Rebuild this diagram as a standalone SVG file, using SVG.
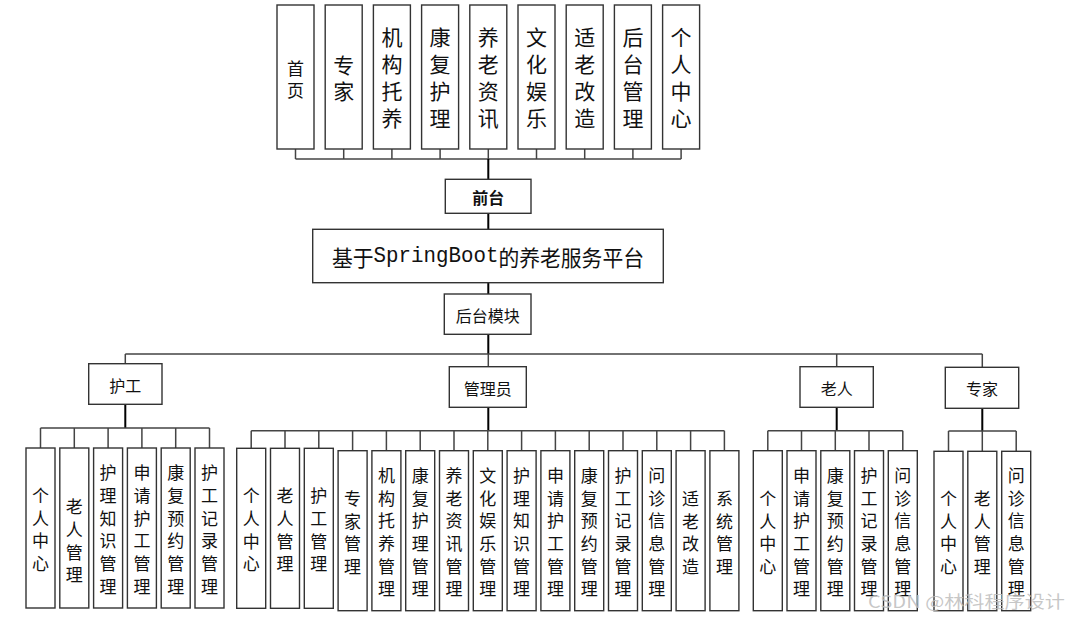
<svg xmlns="http://www.w3.org/2000/svg" width="1073" height="619" viewBox="0 0 1073 619">
<style>
rect.b{fill:#fff;stroke:#333;stroke-width:1.4}
.t{font-family:"Noto Sans CJK SC","Liberation Sans",sans-serif;fill:#111;text-anchor:middle;dominant-baseline:central}
.top{font-size:21px}
.g{font-size:16px}
.c{font-size:17px}
.ln{stroke:#444;stroke-width:1.5;fill:none}
.tk{stroke:#000;stroke-width:2;fill:none}
</style>
<rect width="1073" height="619" fill="#fff"/>
<g id="connectors">
<path class="ln" d="M295.5,149V159M343.7,149V159M391.9,149V159M440.1,149V159M536.5,149V159M584.7,149V159M632.9,149V159M681.1,149V159M488.3,149V159"/>
<path class="ln" d="M295.5,159H681.1"/>
<path class="tk" d="M488.3,159V179.3M488.3,213.3V229.3M488.3,282.7V294M488.3,334.3V354"/>
<path class="ln" d="M125.3,354H982.3M125.3,354V363.7M488.3,354V366.7M836.7,354V366.7M982.3,354V367.3"/>
<path class="tk" d="M125.3,404.3V428M488.3,407.3V430.7M836.7,407.3V430.7M982.3,408.3V431"/>
<path class="ln" d="M40.5,428H209.5M40.5,428V448M74.3,428V448M108.1,428V448M141.9,428V448M175.7,428V448M209.5,428V448"/>
<path class="ln" d="M251.2,430.7H724.4M251.2,430.7V448.3M285,430.7V448.3M318.8,430.7V448.3M352.6,430.7V450.7M386.4,430.7V450.7M420.2,430.7V450.7M454,430.7V450.7M487.8,430.7V450.7M521.6,430.7V450.7M555.4,430.7V450.7M589.2,430.7V450.7M623,430.7V450.7M656.8,430.7V450.7M690.6,430.7V450.7M724.4,430.7V450.7"/>
<path class="ln" d="M767.8,430.7H902.8M767.8,430.7V450.7M801.5,430.7V450.7M835.3,430.7V450.7M869,430.7V450.7M902.8,430.7V450.7"/>
<path class="ln" d="M948.5,431H1016.2M948.5,431V451.3M1016.2,431V451.3M982.3,431V451.3"/>
</g>
<g id="top-nodes">
<g id="n-shouye"><rect class="b" x="277" y="5" width="37" height="144"/><text class="t" style="font-size:17px" x="295.5"><tspan x="295.5" y="66.5">首</tspan><tspan x="295.5" y="88.5">页</tspan></text></g>
<g id="n-zhuanjia"><rect class="b" x="325.2" y="5" width="37" height="144"/><text class="t top" x="343.7"><tspan x="343.7" y="63.5">专</tspan><tspan x="343.7" y="90">家</tspan></text></g>
<g id="n-jigou"><rect class="b" x="373.4" y="5" width="37" height="144"/><text class="t top"><tspan x="391.9" y="36">机</tspan><tspan x="391.9" y="63">构</tspan><tspan x="391.9" y="90">托</tspan><tspan x="391.9" y="117">养</tspan></text></g>
<g id="n-kangfu"><rect class="b" x="421.6" y="5" width="37" height="144"/><text class="t top"><tspan x="440.1" y="36">康</tspan><tspan x="440.1" y="63">复</tspan><tspan x="440.1" y="90">护</tspan><tspan x="440.1" y="117">理</tspan></text></g>
<g id="n-zixun"><rect class="b" x="469.8" y="5" width="37" height="144"/><text class="t top"><tspan x="488.3" y="36">养</tspan><tspan x="488.3" y="63">老</tspan><tspan x="488.3" y="90">资</tspan><tspan x="488.3" y="117">讯</tspan></text></g>
<g id="n-wenhua"><rect class="b" x="518" y="5" width="37" height="144"/><text class="t top"><tspan x="536.5" y="36">文</tspan><tspan x="536.5" y="63">化</tspan><tspan x="536.5" y="90">娱</tspan><tspan x="536.5" y="117">乐</tspan></text></g>
<g id="n-shilao"><rect class="b" x="566.2" y="5" width="37" height="144"/><text class="t top"><tspan x="584.7" y="36">适</tspan><tspan x="584.7" y="63">老</tspan><tspan x="584.7" y="90">改</tspan><tspan x="584.7" y="117">造</tspan></text></g>
<g id="n-houtai"><rect class="b" x="614.4" y="5" width="37" height="144"/><text class="t top"><tspan x="632.9" y="36">后</tspan><tspan x="632.9" y="63">台</tspan><tspan x="632.9" y="90">管</tspan><tspan x="632.9" y="117">理</tspan></text></g>
<g id="n-geren"><rect class="b" x="662.6" y="5" width="37" height="144"/><text class="t top"><tspan x="681.1" y="36">个</tspan><tspan x="681.1" y="63">人</tspan><tspan x="681.1" y="90">中</tspan><tspan x="681.1" y="117">心</tspan></text></g>
</g>
<g id="n-qiantai"><rect class="b" x="445.3" y="179.3" width="85.7" height="34"/><text class="t g" x="488.3" y="196.5" font-weight="bold">前台</text></g>
<g id="n-main"><rect class="b" x="312.7" y="229.3" width="350.6" height="53.4"/><text class="t" style="font-size:22px" x="488" y="256" textLength="312" lengthAdjust="spacingAndGlyphs">基于<tspan style="font-family:'Liberation Mono',monospace">SpringBoot</tspan>的养老服务平台</text></g>
<g id="n-backend"><rect class="b" x="444.3" y="294" width="86.7" height="40.3"/><text class="t g" x="487.7" y="314.5">后台模块</text></g>
<g id="n-hugong"><rect class="b" x="88.7" y="363.7" width="73.3" height="40.6"/><text class="t g" x="125.3" y="384.5">护工</text></g>
<g id="n-admin"><rect class="b" x="449.3" y="366.7" width="77" height="40.6"/><text class="t g" x="487.8" y="387.5">管理员</text></g>
<g id="n-laoren"><rect class="b" x="800" y="366.7" width="73.3" height="40.6"/><text class="t g" x="836.7" y="387.5">老人</text></g>
<g id="n-expert"><rect class="b" x="945.3" y="367.3" width="73.4" height="41"/><text class="t g" x="982" y="388">专家</text></g>
<g id="hugong-children">
<g id="h1"><rect class="b" x="26" y="448" width="29" height="160"/><text class="t c"><tspan x="40.5" y="494">个</tspan><tspan x="40.5" y="516.7">人</tspan><tspan x="40.5" y="539.3">中</tspan><tspan x="40.5" y="562">心</tspan></text></g>
<g id="h2"><rect class="b" x="59.8" y="448" width="29" height="160"/><text class="t c"><tspan x="74.3" y="505.3">老</tspan><tspan x="74.3" y="528">人</tspan><tspan x="74.3" y="550.7">管</tspan><tspan x="74.3" y="573.4">理</tspan></text></g>
<g id="h3"><rect class="b" x="93.6" y="448" width="29" height="160"/><text class="t c"><tspan x="108.1" y="471.3">护</tspan><tspan x="108.1" y="494">理</tspan><tspan x="108.1" y="516.7">知</tspan><tspan x="108.1" y="539.3">识</tspan><tspan x="108.1" y="562">管</tspan><tspan x="108.1" y="584.7">理</tspan></text></g>
<g id="h4"><rect class="b" x="127.4" y="448" width="29" height="160"/><text class="t c"><tspan x="141.9" y="471.3">申</tspan><tspan x="141.9" y="494">请</tspan><tspan x="141.9" y="516.7">护</tspan><tspan x="141.9" y="539.3">工</tspan><tspan x="141.9" y="562">管</tspan><tspan x="141.9" y="584.7">理</tspan></text></g>
<g id="h5"><rect class="b" x="161.2" y="448" width="29" height="160"/><text class="t c"><tspan x="175.7" y="471.3">康</tspan><tspan x="175.7" y="494">复</tspan><tspan x="175.7" y="516.7">预</tspan><tspan x="175.7" y="539.3">约</tspan><tspan x="175.7" y="562">管</tspan><tspan x="175.7" y="584.7">理</tspan></text></g>
<g id="h6"><rect class="b" x="195" y="448" width="29" height="160"/><text class="t c"><tspan x="209.5" y="471.3">护</tspan><tspan x="209.5" y="494">工</tspan><tspan x="209.5" y="516.7">记</tspan><tspan x="209.5" y="539.3">录</tspan><tspan x="209.5" y="562">管</tspan><tspan x="209.5" y="584.7">理</tspan></text></g>
</g>
<g id="admin-children">
<g id="a1"><rect class="b" x="236.7" y="448.3" width="29" height="160"/><text class="t c"><tspan x="251.2" y="494.3">个</tspan><tspan x="251.2" y="517">人</tspan><tspan x="251.2" y="539.6">中</tspan><tspan x="251.2" y="562.3">心</tspan></text></g>
<g id="a2"><rect class="b" x="270.5" y="448.3" width="29" height="160"/><text class="t c"><tspan x="285" y="494.3">老</tspan><tspan x="285" y="517">人</tspan><tspan x="285" y="539.6">管</tspan><tspan x="285" y="562.3">理</tspan></text></g>
<g id="a3"><rect class="b" x="304.3" y="448.3" width="29" height="160"/><text class="t c"><tspan x="318.8" y="494.3">护</tspan><tspan x="318.8" y="517">工</tspan><tspan x="318.8" y="539.6">管</tspan><tspan x="318.8" y="562.3">理</tspan></text></g>
<g id="a4"><rect class="b" x="338.1" y="450.7" width="29" height="160"/><text class="t c"><tspan x="352.6" y="497">专</tspan><tspan x="352.6" y="519.7">家</tspan><tspan x="352.6" y="542.3">管</tspan><tspan x="352.6" y="565">理</tspan></text></g>
<g id="a5"><rect class="b" x="371.9" y="450.7" width="29" height="160"/><text class="t c"><tspan x="386.4" y="474">机</tspan><tspan x="386.4" y="496.7">构</tspan><tspan x="386.4" y="519.4">托</tspan><tspan x="386.4" y="542">养</tspan><tspan x="386.4" y="564.7">管</tspan><tspan x="386.4" y="587.4">理</tspan></text></g>
<g id="a6"><rect class="b" x="405.7" y="450.7" width="29" height="160"/><text class="t c"><tspan x="420.2" y="474">康</tspan><tspan x="420.2" y="496.7">复</tspan><tspan x="420.2" y="519.4">护</tspan><tspan x="420.2" y="542">理</tspan><tspan x="420.2" y="564.7">管</tspan><tspan x="420.2" y="587.4">理</tspan></text></g>
<g id="a7"><rect class="b" x="439.5" y="450.7" width="29" height="160"/><text class="t c"><tspan x="454" y="474">养</tspan><tspan x="454" y="496.7">老</tspan><tspan x="454" y="519.4">资</tspan><tspan x="454" y="542">讯</tspan><tspan x="454" y="564.7">管</tspan><tspan x="454" y="587.4">理</tspan></text></g>
<g id="a8"><rect class="b" x="473.3" y="450.7" width="29" height="160"/><text class="t c"><tspan x="487.8" y="474">文</tspan><tspan x="487.8" y="496.7">化</tspan><tspan x="487.8" y="519.4">娱</tspan><tspan x="487.8" y="542">乐</tspan><tspan x="487.8" y="564.7">管</tspan><tspan x="487.8" y="587.4">理</tspan></text></g>
<g id="a9"><rect class="b" x="507.1" y="450.7" width="29" height="160"/><text class="t c"><tspan x="521.6" y="474">护</tspan><tspan x="521.6" y="496.7">理</tspan><tspan x="521.6" y="519.4">知</tspan><tspan x="521.6" y="542">识</tspan><tspan x="521.6" y="564.7">管</tspan><tspan x="521.6" y="587.4">理</tspan></text></g>
<g id="a10"><rect class="b" x="540.9" y="450.7" width="29" height="160"/><text class="t c"><tspan x="555.4" y="474">申</tspan><tspan x="555.4" y="496.7">请</tspan><tspan x="555.4" y="519.4">护</tspan><tspan x="555.4" y="542">工</tspan><tspan x="555.4" y="564.7">管</tspan><tspan x="555.4" y="587.4">理</tspan></text></g>
<g id="a11"><rect class="b" x="574.7" y="450.7" width="29" height="160"/><text class="t c"><tspan x="589.2" y="474">康</tspan><tspan x="589.2" y="496.7">复</tspan><tspan x="589.2" y="519.4">预</tspan><tspan x="589.2" y="542">约</tspan><tspan x="589.2" y="564.7">管</tspan><tspan x="589.2" y="587.4">理</tspan></text></g>
<g id="a12"><rect class="b" x="608.5" y="450.7" width="29" height="160"/><text class="t c"><tspan x="623" y="474">护</tspan><tspan x="623" y="496.7">工</tspan><tspan x="623" y="519.4">记</tspan><tspan x="623" y="542">录</tspan><tspan x="623" y="564.7">管</tspan><tspan x="623" y="587.4">理</tspan></text></g>
<g id="a13"><rect class="b" x="642.3" y="450.7" width="29" height="160"/><text class="t c"><tspan x="656.8" y="474">问</tspan><tspan x="656.8" y="496.7">诊</tspan><tspan x="656.8" y="519.4">信</tspan><tspan x="656.8" y="542">息</tspan><tspan x="656.8" y="564.7">管</tspan><tspan x="656.8" y="587.4">理</tspan></text></g>
<g id="a14"><rect class="b" x="676.1" y="450.7" width="29" height="160"/><text class="t c"><tspan x="690.6" y="497">适</tspan><tspan x="690.6" y="519.7">老</tspan><tspan x="690.6" y="542.3">改</tspan><tspan x="690.6" y="565">造</tspan></text></g>
<g id="a15"><rect class="b" x="709.9" y="450.7" width="29" height="160"/><text class="t c"><tspan x="724.4" y="497">系</tspan><tspan x="724.4" y="519.7">统</tspan><tspan x="724.4" y="542.3">管</tspan><tspan x="724.4" y="565">理</tspan></text></g>
</g>
<g id="laoren-children">
<g id="l1"><rect class="b" x="753.3" y="450.7" width="29" height="160"/><text class="t c"><tspan x="767.8" y="497">个</tspan><tspan x="767.8" y="519.7">人</tspan><tspan x="767.8" y="542.3">中</tspan><tspan x="767.8" y="565">心</tspan></text></g>
<g id="l2"><rect class="b" x="787" y="450.7" width="29" height="160"/><text class="t c"><tspan x="801.5" y="474">申</tspan><tspan x="801.5" y="496.7">请</tspan><tspan x="801.5" y="519.4">护</tspan><tspan x="801.5" y="542">工</tspan><tspan x="801.5" y="564.7">管</tspan><tspan x="801.5" y="587.4">理</tspan></text></g>
<g id="l3"><rect class="b" x="820.8" y="450.7" width="29" height="160"/><text class="t c"><tspan x="835.3" y="474">康</tspan><tspan x="835.3" y="496.7">复</tspan><tspan x="835.3" y="519.4">预</tspan><tspan x="835.3" y="542">约</tspan><tspan x="835.3" y="564.7">管</tspan><tspan x="835.3" y="587.4">理</tspan></text></g>
<g id="l4"><rect class="b" x="854.5" y="450.7" width="29" height="160"/><text class="t c"><tspan x="869" y="474">护</tspan><tspan x="869" y="496.7">工</tspan><tspan x="869" y="519.4">记</tspan><tspan x="869" y="542">录</tspan><tspan x="869" y="564.7">管</tspan><tspan x="869" y="587.4">理</tspan></text></g>
<g id="l5"><rect class="b" x="888.3" y="450.7" width="29" height="160"/><text class="t c"><tspan x="902.8" y="474">问</tspan><tspan x="902.8" y="496.7">诊</tspan><tspan x="902.8" y="519.4">信</tspan><tspan x="902.8" y="542">息</tspan><tspan x="902.8" y="564.7">管</tspan><tspan x="902.8" y="587.4">理</tspan></text></g>
</g>
<g id="expert-children">
<g id="e1"><rect class="b" x="934" y="451.3" width="29" height="159.4"/><text class="t c"><tspan x="948.5" y="497">个</tspan><tspan x="948.5" y="519.7">人</tspan><tspan x="948.5" y="542.3">中</tspan><tspan x="948.5" y="565">心</tspan></text></g>
<g id="e2"><rect class="b" x="967.8" y="451.3" width="29" height="159.4"/><text class="t c"><tspan x="982.3" y="497">老</tspan><tspan x="982.3" y="519.7">人</tspan><tspan x="982.3" y="542.3">管</tspan><tspan x="982.3" y="565">理</tspan></text></g>
<g id="e3"><rect class="b" x="1001.7" y="451.3" width="29" height="159.4"/><text class="t c"><tspan x="1016.2" y="474">问</tspan><tspan x="1016.2" y="496.7">诊</tspan><tspan x="1016.2" y="519.4">信</tspan><tspan x="1016.2" y="542">息</tspan><tspan x="1016.2" y="564.7">管</tspan><tspan x="1016.2" y="587.4">理</tspan></text></g>
</g>
<text x="868" y="608" style="font-family:'Noto Sans CJK SC','Liberation Sans',sans-serif;font-size:17px;fill:#bdbdbd;fill-opacity:0.85" textLength="197" lengthAdjust="spacingAndGlyphs">CSDN @林科程序设计</text>
</svg>
